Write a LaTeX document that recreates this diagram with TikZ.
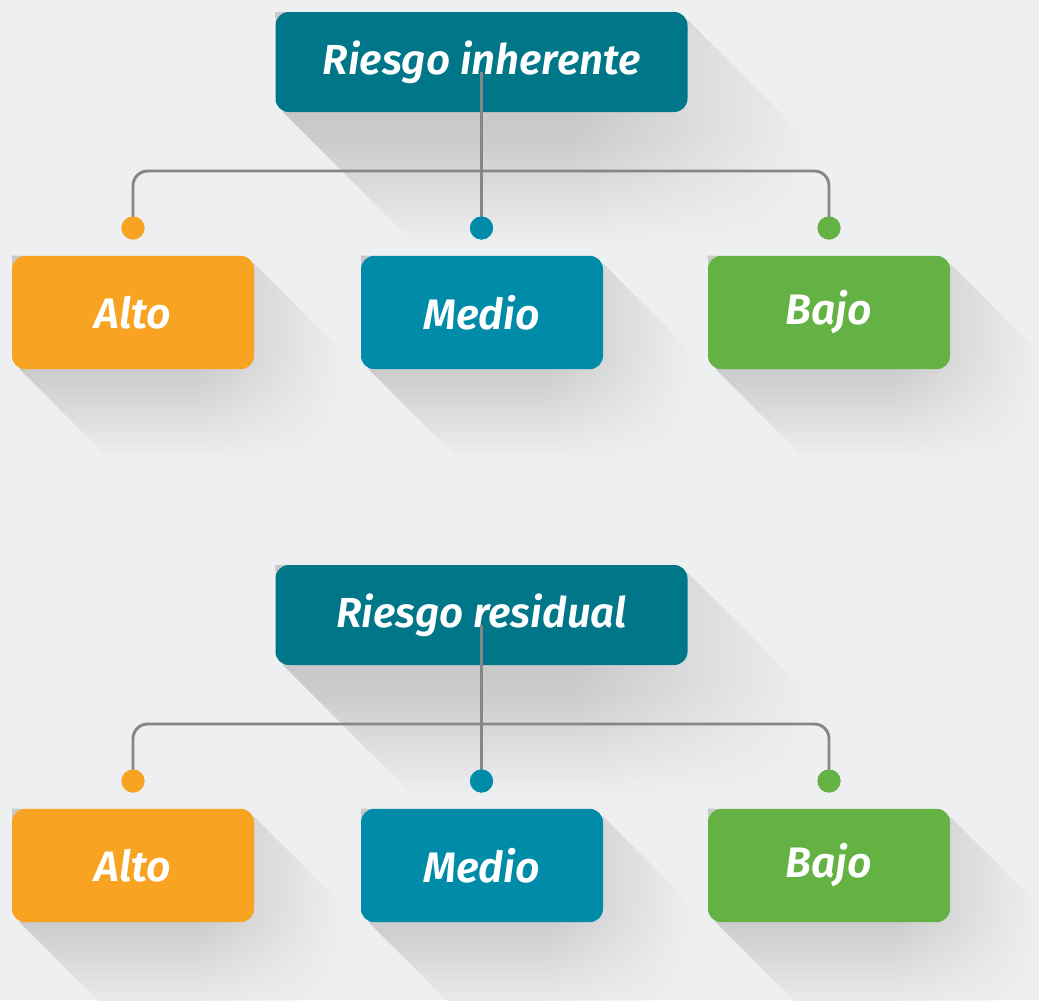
\documentclass[tikz,border=0pt]{standalone}
\usepackage{fontspec}
\setmainfont{Fira Sans}[BoldItalicFont={Fira Sans SemiBold Italic}]
\usetikzlibrary{calc,fadings}
\definecolor{bg}{HTML}{EEEFF1}
\definecolor{topc}{HTML}{007788}
\definecolor{orng}{HTML}{F9A323}
\definecolor{tealc}{HTML}{008BA8}
\definecolor{grn}{HTML}{63B243}
\definecolor{shd}{HTML}{C9C9C9}
\definecolor{lnc}{HTML}{868686}
\pgfdeclareverticalshading{longsh}{100bp}{
  color(0bp)=(bg); color(26bp)=(bg); color(37.5bp)=(shd!50!bg);
  color(47.5bp)=(shd!92!bg); color(52.5bp)=(shd); color(100bp)=(shd)}
\pgfdeclarehorizontalshading{fadeRsh}{100bp}{
  color(0bp)=(white); color(52bp)=(white); color(74bp)=(black); color(100bp)=(black)}
\pgfdeclarefading{fadeR}{\pgfuseshading{fadeRsh}}
\pgfdeclarelayer{bgl}
\pgfdeclarelayer{shl}
\pgfsetlayers{bgl,shl,main}
\begin{document}
\begin{tikzpicture}[x=0.75pt,y=-0.75pt,
  box/.style={rounded corners=10pt, inner sep=0pt, text=white,
    font=\fontsize{32}{36}\selectfont\bfseries\itshape,
    minimum width=181.5pt, minimum height=85pt},
  head/.style={box, fill=topc, minimum width=309pt, minimum height=75pt,
    font=\fontsize{31.5}{36}\selectfont\bfseries\itshape},
  conn/.style={draw=lnc, line width=2.2pt, rounded corners=11pt},
  dotn/.style={circle, inner sep=0pt, minimum size=17.25pt},
  shadowfill/.style={shading=longsh, shading angle=0, path fading=fadeR},
]
\useasboundingbox (0,0) rectangle (1039,1000);
\begin{pgfonlayer}{bgl}
  \fill[bg] (0,0) rectangle (1039,1000);
\end{pgfonlayer}

\foreach \g/\t/\oy in {1/Riesgo inherente/0, 2/Riesgo residual/553}{
  \node[head] (h\g) at (481.5,62+\oy) {\t};
  \node[box, fill=orng]  (a\g) at (133,312.5+\oy) {Alto};
  \node[box, fill=tealc] (m\g) at (482,312.5+\oy) {Medio};
  \node[box, fill=grn]   (b\g) at (829,312.5+\oy) {Bajo};
  \coordinate (s\g) at (481.5,72+\oy);
  \coordinate (bar\g) at (481.5,171+\oy);
  \node[dotn, fill=orng]  (da\g) at (133,228+\oy) {};
  \node[dotn, fill=tealc] (dm\g) at (481.5,228+\oy) {};
  \node[dotn, fill=grn]   (db\g) at (829,228+\oy) {};
  \begin{pgfonlayer}{shl}
    \foreach \n/\d in {h\g/135, a\g/95, m\g/95, b\g/95}{
      \shade[shadowfill]
        (\n.north west) -- ($(\n.north east)+(0,8)$) -- ($(\n.north east)+(\d,8+\d)$)
        -- ($(\n.south east)+(\d,\d)$) -- ($(\n.south west)+(8+\d,\d)$)
        -- ($(\n.south west)+(8,0)$) -- cycle;
    }
  \end{pgfonlayer}
  \draw[conn] (s\g) -- (dm\g.center);
  \draw[conn] (da\g.center) |- (bar\g) -| (db\g.center);
  \node[dotn, fill=orng]  at (da\g) {};
  \node[dotn, fill=tealc] at (dm\g) {};
  \node[dotn, fill=grn]   at (db\g) {};
}
\end{tikzpicture}
\end{document}
